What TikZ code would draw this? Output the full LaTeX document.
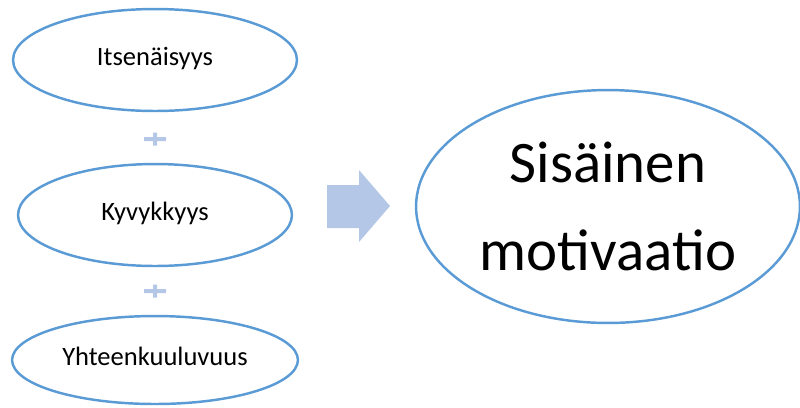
\documentclass[tikz,border=0pt]{standalone}
\usepackage{fontspec}
\setmainfont{Carlito}
\usetikzlibrary{shapes.geometric}
\definecolor{ovalblue}{HTML}{5B9BD5}
\definecolor{lightblue}{HTML}{B4C7E7}

\begin{document}
\begin{tikzpicture}[x=0.02cm, y=-0.02cm]
   \useasboundingbox (0,0) rectangle (800,407);
   \begin{scope}
      \def \Ovals {
         e1/155/60/142/51/Itsenäisyys,
         e2/155/215/137/51/Kyvykkyys,
         e3/155/360/143/44/Yhteenkuuluvuus}
      \def \Pluses {
         p1/139,
         p2/291}
      \foreach \u / \x / \y / \rx / \ry / \n in \Ovals {
         \node[draw=ovalblue, line width=1.4pt, ellipse, inner sep=0pt,
               minimum width={0.04cm*\rx}, minimum height={0.04cm*\ry},
               font=\fontsize{15.1}{18}\selectfont,
               text height=0.644em, text depth=0pt] (\u) at (\x, \y){\n};
      }
      \foreach \p / \y in \Pluses {
         \coordinate (\p) at (155, \y);
         \fill[lightblue, shift={(\p)}] (-11,-2) rectangle (11,2) (-2,-6.5) rectangle (2,6.5);
      }
   \end{scope}
   \fill[lightblue] (327,185) -- (359,185) -- (359,170) -- (390,206) -- (359,242) -- (359,228) -- (327,228) -- cycle;
   \node[draw=ovalblue, line width=1.4pt, ellipse, inner sep=0pt,
         minimum width={0.04cm*192}, minimum height={0.04cm*116.5},
         align=center, font=\fontsize{33.5}{50.1}\selectfont,
         text depth=0pt] (motiv) at (608, 206.5){Sisäinen\\motivaatio};
\end{tikzpicture}
\end{document}
